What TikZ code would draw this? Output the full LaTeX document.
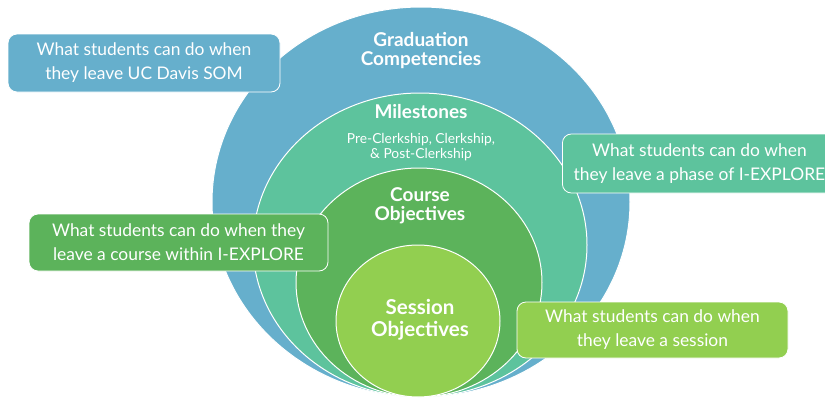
\documentclass[tikz,border=0pt]{standalone}
\usepackage{fontspec}
\setmainfont{Lato}
\usetikzlibrary{shapes.geometric}
\definecolor{gradblue}{HTML}{66AFCC}
\definecolor{miletea}{HTML}{5DC39D}
\definecolor{coursegreen}{HTML}{5CB35B}
\definecolor{sessgreen}{HTML}{92CF50}
\tikzset{
  ring/.style={ellipse, draw=white, line width=1pt, inner sep=0pt},
  note/.style={draw=white, line width=0.8pt, rounded corners=9pt, text=white,
    align=center, font=\fontsize{17.4}{24}\selectfont, inner sep=0pt},
  ringlabel/.style={text=white, align=center, font=\bfseries\fontsize{19}{19}\selectfont},
  sublabel/.style={text=white, align=center, font=\fontsize{13.8}{15.5}\selectfont}
}
\begin{document}
\begin{tikzpicture}[x=1pt,y=-1pt]
\useasboundingbox (0,0) rectangle (825,399);
% nested levels
\node[ring, fill=gradblue, minimum width=418pt, minimum height=390pt] (grad) at (421,202) {};
\node[ring, fill=miletea, minimum width=334pt, minimum height=304pt] (mile) at (420,245) {};
\node[ring, fill=coursegreen, minimum width=246pt, minimum height=229pt] (course) at (419,282.5) {};
\node[ring, fill=sessgreen, minimum width=164pt, minimum height=152pt] (sess) at (418,321) {};
% level titles
\node[ringlabel] (gradtxt) at (421,51) {Graduation\\Competencies};
\node[ringlabel] (miletxt) at (421,112) {Milestones};
\node[sublabel] (milesub) at (421,147) {Pre-Clerkship, Clerkship,\\\& Post-Clerkship};
\node[ringlabel] (coursetxt) at (420,206) {Course\\Objectives};
\node[ringlabel, font=\bfseries\fontsize{20.5}{22}\selectfont] (sesstxt) at (420,320) {Session\\Objectives};
% descriptions
\node[note, fill=gradblue, minimum width=272pt, minimum height=58pt] (gradnote) at (144,63)
  {What students can do when\\they leave UC Davis SOM};
\node[note, fill=miletea, minimum width=274pt, minimum height=59pt, anchor=west] (milenote) at (562,163.5)
  {What students can do when\\they leave a phase of I-EXPLORE};
\node[note, fill=coursegreen, minimum width=299pt, minimum height=57pt] (coursenote) at (178.5,242.5)
  {What students can do when they\\leave a course within I-EXPLORE};
\node[note, fill=sessgreen, minimum width=271pt, minimum height=56pt] (sessnote) at (652.5,330)
  {What students can do when\\they leave a session};
\end{tikzpicture}
\end{document}
